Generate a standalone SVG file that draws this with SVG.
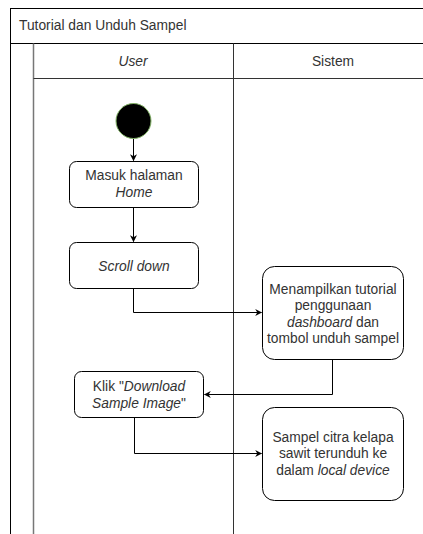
<svg xmlns="http://www.w3.org/2000/svg" width="423" height="534" viewBox="0 0 423 534">
<defs>
<style>
text{font-family:"Liberation Sans",Arial,sans-serif;font-size:13.8px;fill:#333;}
.c{text-anchor:middle;}
.box{fill:#fff;stroke:#000;stroke-width:1;}
.ln{fill:none;stroke:#000;stroke-width:1;}
</style>
<marker id="ah" viewBox="0 0 10 10" refX="9" refY="5" markerWidth="7" markerHeight="7" orient="auto" markerUnits="userSpaceOnUse">
<path d="M0,0 L10,5 L0,10 L3,5 Z" fill="#000"/>
</marker>
</defs>
<g id="pool">
<rect x="10.5" y="8.5" width="430" height="540" fill="#fff" stroke="#000"/>
<line x1="10.5" y1="43.5" x2="440" y2="43.5" stroke="#000"/>
<text x="19" y="30">Tutorial dan Unduh Sampel</text>
<line x1="33.5" y1="43.5" x2="33.5" y2="540" stroke="#777" stroke-width="1.5"/>
<line x1="233.5" y1="43.5" x2="233.5" y2="540" stroke="#333"/>
<line x1="33.5" y1="78.5" x2="440" y2="78.5" stroke="#333"/>
<text class="c" x="133" y="66" font-style="italic">User</text>
<text class="c" x="333" y="66">Sistem</text>
</g>
<g id="start">
<circle cx="133.5" cy="121" r="17.5" fill="#000" stroke="#82b366"/>
</g>
<g id="masuk">
<rect class="box" x="69.5" y="161.5" width="129" height="46" rx="7"/>
<text class="c" x="134" y="180">Masuk halaman</text>
<text class="c" x="134" y="197" font-style="italic">Home</text>
</g>
<g id="scroll">
<rect class="box" x="69.5" y="242.5" width="129" height="46" rx="7"/>
<text class="c" x="134" y="271" font-style="italic">Scroll down</text>
</g>
<g id="menampilkan">
<rect class="box" x="262.5" y="266.5" width="141" height="93" rx="12"/>
<text class="c" x="333" y="294">Menampilkan tutorial</text>
<text class="c" x="333" y="310">penggunaan</text>
<text class="c" x="333" y="327"><tspan font-style="italic">dashboard</tspan> dan</text>
<text class="c" x="333" y="343">tombol unduh sampel</text>
</g>
<g id="klik">
<rect class="box" x="74.5" y="371.5" width="129" height="46" rx="7"/>
<text class="c" x="139" y="391">Klik "<tspan font-style="italic">Download</tspan></text>
<text class="c" x="139" y="408"><tspan font-style="italic">Sample Image</tspan>"</text>
</g>
<g id="sampel">
<rect class="box" x="262.5" y="407.5" width="141" height="93" rx="12"/>
<text class="c" x="333" y="442">Sampel citra kelapa</text>
<text class="c" x="333" y="458">sawit terunduh ke</text>
<text class="c" x="333" y="475">dalam <tspan font-style="italic">local device</tspan></text>
</g>
<g id="connectors">
<path class="ln" d="M133.5,139 V160.5" marker-end="url(#ah)"/>
<path class="ln" d="M133.5,207.5 V241.5" marker-end="url(#ah)"/>
<path class="ln" d="M133.5,288.5 V312.5 H261.5" marker-end="url(#ah)"/>
<path class="ln" d="M332.5,359.5 V394.5 H204.5" marker-end="url(#ah)"/>
<path class="ln" d="M134.5,417.5 V453.5 H261.5" marker-end="url(#ah)"/>
</g>
</svg>
